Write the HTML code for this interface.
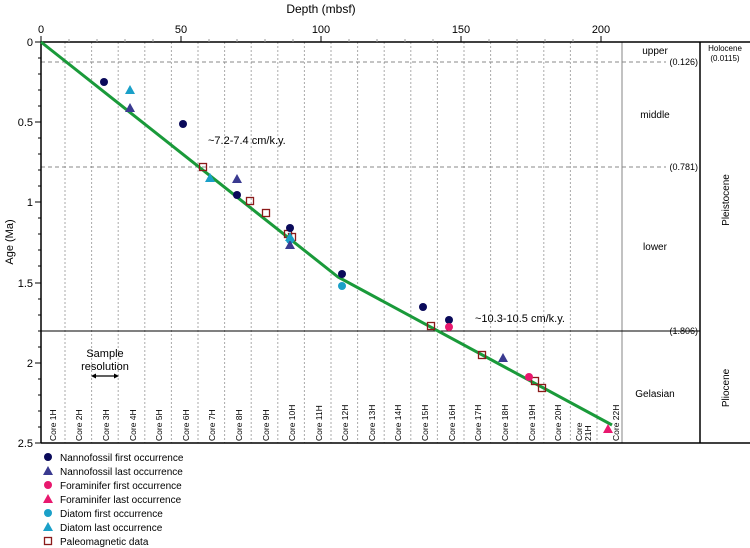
<!DOCTYPE html>
<html><head><meta charset="utf-8"><style>
body{margin:0;background:#fff;}
svg{display:block;font-family:"Liberation Sans",Arial,sans-serif;}
</style></head><body>
<svg width="750" height="548" viewBox="0 0 750 548" xmlns="http://www.w3.org/2000/svg">
<g stroke="#aaa" stroke-width="1" stroke-dasharray="2,2">
<line x1="65" y1="42" x2="65" y2="443"/><line x1="91.6" y1="42" x2="91.6" y2="443"/><line x1="118.2" y1="42" x2="118.2" y2="443"/><line x1="144.8" y1="42" x2="144.8" y2="443"/><line x1="171.4" y1="42" x2="171.4" y2="443"/><line x1="198" y1="42" x2="198" y2="443"/><line x1="224.6" y1="42" x2="224.6" y2="443"/><line x1="251.2" y1="42" x2="251.2" y2="443"/><line x1="277.8" y1="42" x2="277.8" y2="443"/><line x1="304.4" y1="42" x2="304.4" y2="443"/><line x1="331" y1="42" x2="331" y2="443"/><line x1="357.6" y1="42" x2="357.6" y2="443"/><line x1="384.2" y1="42" x2="384.2" y2="443"/><line x1="410.8" y1="42" x2="410.8" y2="443"/><line x1="437.4" y1="42" x2="437.4" y2="443"/><line x1="464" y1="42" x2="464" y2="443"/><line x1="490.6" y1="42" x2="490.6" y2="443"/><line x1="517.2" y1="42" x2="517.2" y2="443"/><line x1="543.8" y1="42" x2="543.8" y2="443"/><line x1="570.4" y1="42" x2="570.4" y2="443"/><line x1="597" y1="42" x2="597" y2="443"/>
</g>
<line x1="622" y1="42" x2="622" y2="443" stroke="#999" stroke-width="1.2"/>
<g stroke="#888" stroke-width="1" stroke-dasharray="4,3">
<line x1="41" y1="62" x2="666" y2="62"/><line x1="41" y1="167" x2="666" y2="167"/>
</g>
<line x1="41" y1="331" x2="700" y2="331" stroke="#000" stroke-width="1"/>
<g font-size="9" fill="#000" text-anchor="end">
<text x="698" y="65">(0.126)</text><text x="698" y="170">(0.781)</text><text x="698" y="334">(1.806)</text>
</g>
<line x1="41" y1="42" x2="750" y2="42" stroke="#000" stroke-width="1.5"/>
<line x1="41" y1="443" x2="750" y2="443" stroke="#000" stroke-width="1.5"/>
<line x1="41" y1="42" x2="41" y2="443" stroke="#000" stroke-width="1.5"/>
<line x1="700" y1="42" x2="700" y2="443" stroke="#000" stroke-width="1.5"/>
<g stroke="#000" stroke-width="1">
<line x1="41" y1="36" x2="41" y2="42"/><line x1="181" y1="36" x2="181" y2="42"/><line x1="321" y1="36" x2="321" y2="42"/><line x1="461" y1="36" x2="461" y2="42"/><line x1="601" y1="36" x2="601" y2="42"/>
</g>
<g stroke="#999" stroke-width="1">
<line x1="69" y1="39" x2="69" y2="42"/><line x1="97" y1="39" x2="97" y2="42"/><line x1="125" y1="39" x2="125" y2="42"/><line x1="153" y1="39" x2="153" y2="42"/><line x1="209" y1="39" x2="209" y2="42"/><line x1="237" y1="39" x2="237" y2="42"/><line x1="265" y1="39" x2="265" y2="42"/><line x1="293" y1="39" x2="293" y2="42"/><line x1="349" y1="39" x2="349" y2="42"/><line x1="377" y1="39" x2="377" y2="42"/><line x1="405" y1="39" x2="405" y2="42"/><line x1="433" y1="39" x2="433" y2="42"/><line x1="489" y1="39" x2="489" y2="42"/><line x1="517" y1="39" x2="517" y2="42"/><line x1="545" y1="39" x2="545" y2="42"/><line x1="573" y1="39" x2="573" y2="42"/>
</g>
<g font-size="11" text-anchor="middle"><text x="41" y="33">0</text><text x="181" y="33">50</text><text x="321" y="33">100</text><text x="461" y="33">150</text><text x="601" y="33">200</text></g>
<text x="321" y="13" font-size="12" text-anchor="middle">Depth (mbsf)</text>
<g stroke="#000" stroke-width="1">
<line x1="35" y1="42" x2="41" y2="42"/><line x1="35" y1="122" x2="41" y2="122"/><line x1="35" y1="202" x2="41" y2="202"/><line x1="35" y1="283" x2="41" y2="283"/><line x1="35" y1="363" x2="41" y2="363"/><line x1="35" y1="443" x2="41" y2="443"/>
<line x1="38" y1="58" x2="41" y2="58"/><line x1="38" y1="74" x2="41" y2="74"/><line x1="38" y1="90" x2="41" y2="90"/><line x1="38" y1="106" x2="41" y2="106"/>
<line x1="38" y1="138" x2="41" y2="138"/><line x1="38" y1="154" x2="41" y2="154"/><line x1="38" y1="170" x2="41" y2="170"/><line x1="38" y1="186" x2="41" y2="186"/>
<line x1="38" y1="218" x2="41" y2="218"/><line x1="38" y1="234" x2="41" y2="234"/><line x1="38" y1="250" x2="41" y2="250"/><line x1="38" y1="266" x2="41" y2="266"/>
<line x1="38" y1="299" x2="41" y2="299"/><line x1="38" y1="315" x2="41" y2="315"/><line x1="38" y1="331" x2="41" y2="331"/><line x1="38" y1="347" x2="41" y2="347"/>
<line x1="38" y1="379" x2="41" y2="379"/><line x1="38" y1="395" x2="41" y2="395"/><line x1="38" y1="411" x2="41" y2="411"/><line x1="38" y1="427" x2="41" y2="427"/>
</g>
<g font-size="11" text-anchor="end"><text x="33" y="46">0</text><text x="33" y="126">0.5</text><text x="33" y="206">1</text><text x="33" y="287">1.5</text><text x="33" y="367">2</text><text x="33" y="447">2.5</text></g>
<text transform="translate(13,242) rotate(-90)" font-size="11" text-anchor="middle">Age (Ma)</text>
<g font-size="10" text-anchor="middle">
<text x="655" y="54">upper</text><text x="655" y="118">middle</text><text x="655" y="250">lower</text><text x="655" y="397">Gelasian</text>
</g>
<g font-size="8" text-anchor="middle"><text x="725" y="51">Holocene</text><text x="725" y="61">(0.0115)</text></g>
<text transform="translate(729,200) rotate(-90)" font-size="10" text-anchor="middle">Pleistocene</text>
<text transform="translate(729,388) rotate(-90)" font-size="10" text-anchor="middle">Pliocene</text>
<g font-size="8.5">
<text transform="translate(56,441) rotate(-90)">Core 1H</text>
<text transform="translate(82,441) rotate(-90)">Core 2H</text>
<text transform="translate(109,441) rotate(-90)">Core 3H</text>
<text transform="translate(136,441) rotate(-90)">Core 4H</text>
<text transform="translate(162,441) rotate(-90)">Core 5H</text>
<text transform="translate(189,441) rotate(-90)">Core 6H</text>
<text transform="translate(215,441) rotate(-90)">Core 7H</text>
<text transform="translate(242,441) rotate(-90)">Core 8H</text>
<text transform="translate(269,441) rotate(-90)">Core 9H</text>
<text transform="translate(295,441) rotate(-90)">Core 10H</text>
<text transform="translate(322,441) rotate(-90)">Core 11H</text>
<text transform="translate(348,441) rotate(-90)">Core 12H</text>
<text transform="translate(375,441) rotate(-90)">Core 13H</text>
<text transform="translate(401,441) rotate(-90)">Core 14H</text>
<text transform="translate(428,441) rotate(-90)">Core 15H</text>
<text transform="translate(455,441) rotate(-90)">Core 16H</text>
<text transform="translate(481,441) rotate(-90)">Core 17H</text>
<text transform="translate(508,441) rotate(-90)">Core 18H</text>
<text transform="translate(535,441) rotate(-90)">Core 19H</text>
<text transform="translate(561,441) rotate(-90)">Core 20H</text>
<text transform="translate(582,441) rotate(-90)">Core</text>
<text transform="translate(591,441) rotate(-90)">21H</text>
<text transform="translate(619,441) rotate(-90)">Core 22H</text>
</g>
<g font-size="11" text-anchor="middle"><text x="105" y="357">Sample</text><text x="105" y="370">resolution</text></g>
<line x1="94" y1="376" x2="116" y2="376" stroke="#000" stroke-width="1.3"/>
<polygon points="91,376 96,373.5 96,378.5" fill="#000"/><polygon points="119,376 114,373.5 114,378.5" fill="#000"/>
<text x="208" y="144" font-size="11">~7.2-7.4  cm/k.y.</text>
<text x="475" y="322" font-size="11">~10.3-10.5  cm/k.y.</text>
<polyline points="41,42 338,277 612,425" fill="none" stroke="#1a9a3a" stroke-width="3"/>
<g fill="none" stroke="#8b1a1a" stroke-width="1.3">
<rect x="199.5" y="163.5" width="7" height="7"/><rect x="246.5" y="197.5" width="7" height="7"/><rect x="262.5" y="209.5" width="7" height="7"/><rect x="284.5" y="230.5" width="7" height="7"/><rect x="288.5" y="233.5" width="7" height="7"/><rect x="427.5" y="322.5" width="7" height="7"/><rect x="478.5" y="351.5" width="7" height="7"/><rect x="531.5" y="377.5" width="7" height="7"/><rect x="538.5" y="384.5" width="7" height="7"/>
</g>
<g fill="#0a0a5a">
<circle cx="104" cy="82" r="4"/><circle cx="183" cy="124" r="4"/><circle cx="237" cy="195" r="4"/><circle cx="290" cy="228" r="4"/><circle cx="342" cy="274" r="4"/><circle cx="423" cy="307" r="4"/><circle cx="449" cy="320" r="4"/>
</g>
<g fill="#e8186e"><circle cx="449" cy="327" r="4"/><circle cx="529" cy="377" r="4"/></g>
<g fill="#1aa0c8"><circle cx="290" cy="240" r="4"/><circle cx="342" cy="286" r="4"/></g>
<g fill="#3a3a90">
<polygon points="130,103 125,112 135,112"/><polygon points="237,174 232,183 242,183"/><polygon points="290,240 285,249 295,249"/><polygon points="503,353 498,362 508,362"/>
</g>
<g fill="#1aa0c8">
<polygon points="130,85 125,94 135,94"/><polygon points="210,173 205,182 215,182"/><polygon points="290,232 285,241 295,241"/>
</g>
<polygon points="608,424 603,433 613,433" fill="#e8186e"/>
<g font-size="10">
<circle cx="48" cy="457" r="4" fill="#0a0a5a"/><text x="60" y="461">Nannofossil first occurrence</text>
<polygon points="48,466 43,475 53,475" fill="#3a3a90"/><text x="60" y="475">Nannofossil last occurrence</text>
<circle cx="48" cy="485" r="4" fill="#e8186e"/><text x="60" y="489">Foraminifer first occurrence</text>
<polygon points="48,494 43,503 53,503" fill="#e8186e"/><text x="60" y="503">Foraminifer last occurrence</text>
<circle cx="48" cy="513" r="4" fill="#1aa0c8"/><text x="60" y="517">Diatom first occurrence</text>
<polygon points="48,522 43,531 53,531" fill="#1aa0c8"/><text x="60" y="531">Diatom last occurrence</text>
<rect x="44.5" y="537.5" width="7" height="7" fill="none" stroke="#8b1a1a" stroke-width="1.3"/><text x="60" y="545">Paleomagnetic data</text>
</g>
</svg>
</body></html>
